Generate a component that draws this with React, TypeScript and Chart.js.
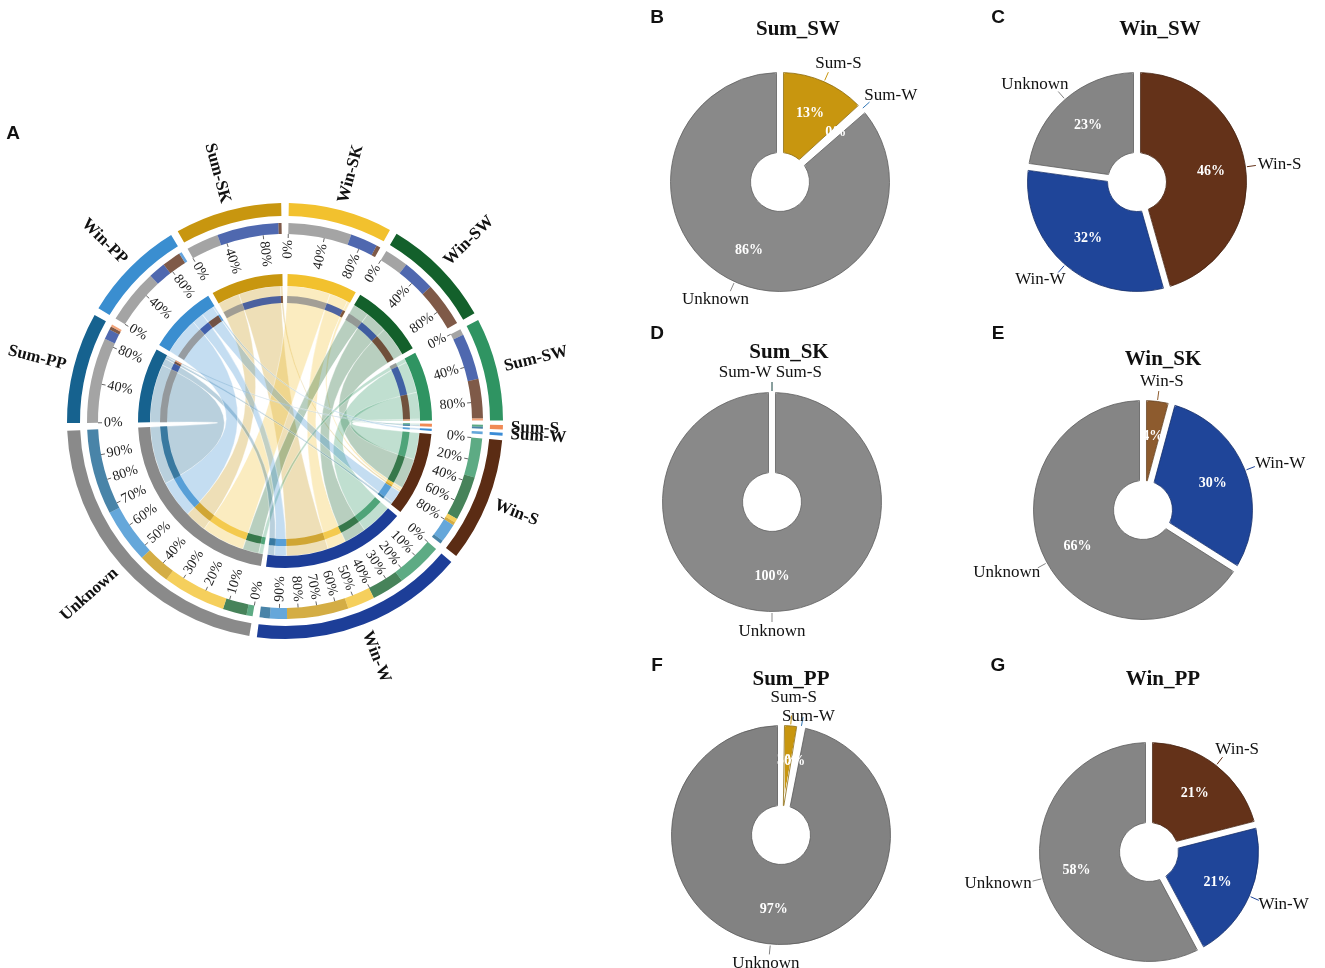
import React, { useEffect, useRef } from 'react';
import { Chart, registerables } from 'chart.js';

Chart.register(...registerables);

const SERIF = "'Liberation Serif', 'Times New Roman', serif";
const SANS = "'Liberation Sans', Arial, sans-serif";

// ---------- Panel A : chord diagram ----------
const SECTORS = ['Win-SK', 'Win-SW', 'Sum-SW', 'Sum-S', 'Sum-W', 'Win-S', 'Win-W', 'Unknown', 'Sum-PP', 'Win-PP', 'Sum-SK'];
const SECTOR_COLORS = ['#F2C12E', '#13602B', '#2F9462', '#F08A55', '#3A8CD6', '#5B2C14', '#1D3E98', '#8A8A8A', '#16628F', '#3A8ED0', '#C8960F'];
const SECTOR_GAPS = [2, 2, 2, 1.2, 0.8, 1.2, 2, 2, 2, 2, 2];
const TICK_STEPS = [40, 40, 40, 0, 0, 20, 10, 10, 40, 40, 40];

const SITES = ['Sum-SK', 'Win-SK', 'Win-SW', 'Sum-SW', 'Sum-PP', 'Win-PP'];
const SOURCES = ['Unknown', 'Win-W', 'Win-S', 'Sum-S', 'Sum-W'];
const LINKS_SUM_SK = [9.5, 18.0, 0.9, 0, 0];
const LINKS_WIN_SK = [18.5, 8.0, 1.2, 0, 0];
const LINKS_WIN_SW = [7.0, 9.5, 13.0, 0, 0];
const LINKS_SUM_SW = [1.8, 13.5, 11.5, 0.6, 0];
const LINKS_SUM_PP = [25.0, 3.0, 1.0, 0.6, 0];
const LINKS_WIN_PP = [16.0, 5.0, 5.5, 0, 0.8];
const LINK_ROWS = [LINKS_SUM_SK, LINKS_WIN_SK, LINKS_WIN_SW, LINKS_SUM_SW, LINKS_SUM_PP, LINKS_WIN_PP];

// ---------- Panels B-G : pies ----------
const PIE_B_LABELS = ['Sum-S', 'Sum-W', 'Unknown'];
const PIE_B_VALUES = [13.2, 0.4, 86.4];
const PIE_B_COLORS = ['#C8960F', '#2E75B6', '#898989'];

const PIE_C_LABELS = ['Win-S', 'Win-W', 'Unknown'];
const PIE_C_VALUES = [45.6, 31.6, 22.8];
const PIE_C_COLORS = ['#643219', '#1F4599', '#858585'];

const PIE_D_LABELS = ['Sum-W', 'Sum-S', 'Unknown'];
const PIE_D_VALUES = [0, 0, 100];
const PIE_D_COLORS = ['#2E75B6', '#C8960F', '#898989'];

const PIE_E_LABELS = ['Win-S', 'Win-W', 'Unknown'];
const PIE_E_VALUES = [4.2, 29.8, 66.0];
const PIE_E_COLORS = ['#8D5B2E', '#1F4599', '#858585'];

const PIE_F_LABELS = ['Sum-S', 'Sum-W', 'Unknown'];
const PIE_F_VALUES = [2.8, 0.3, 96.9];
const PIE_F_COLORS = ['#C8960F', '#2E75B6', '#828282'];

const PIE_G_LABELS = ['Win-S', 'Win-W', 'Unknown'];
const PIE_G_VALUES = [21.0, 21.2, 57.8];
const PIE_G_COLORS = ['#643219', '#1F4599', '#858585'];

const PIE_TITLES = ['Sum_SW', 'Win_SW', 'Sum_SK', 'Win_SK', 'Sum_PP', 'Win_PP'];
const PANEL_LETTERS = ['B', 'C', 'D', 'E', 'F', 'G'];

// layout (positions only)
const PIE_LAYOUT = [
  { cx: 780, cy: 182, tx: 798, ty: 28, lx: 657, ly: 17, spread: 'x' },
  { cx: 1137, cy: 182, tx: 1160, ty: 28, lx: 998, ly: 17, spread: 'x' },
  { cx: 772, cy: 502, tx: 789, ty: 351, lx: 657, ly: 333, spread: 'x' },
  { cx: 1143, cy: 510, tx: 1163, ty: 358, lx: 998, ly: 333, spread: 'x' },
  { cx: 781, cy: 835, tx: 791, ty: 678, lx: 657, ly: 665, spread: 'y' },
  { cx: 1149, cy: 852, tx: 1163, ty: 678, lx: 998, ly: 665, spread: 'x' },
];

const PIES = [
  { labels: PIE_B_LABELS, values: PIE_B_VALUES, colors: PIE_B_COLORS },
  { labels: PIE_C_LABELS, values: PIE_C_VALUES, colors: PIE_C_COLORS },
  { labels: PIE_D_LABELS, values: PIE_D_VALUES, colors: PIE_D_COLORS },
  { labels: PIE_E_LABELS, values: PIE_E_VALUES, colors: PIE_E_COLORS },
  { labels: PIE_F_LABELS, values: PIE_F_VALUES, colors: PIE_F_COLORS },
  { labels: PIE_G_LABELS, values: PIE_G_VALUES, colors: PIE_G_COLORS },
];

function hexToRgb(h: string): number[] {
  const n = parseInt(h.slice(1), 16);
  return [(n >> 16) & 255, (n >> 8) & 255, n & 255];
}
function rgba(h: string, a: number): string {
  const [r, g, b] = hexToRgb(h);
  return `rgba(${r},${g},${b},${a})`;
}
function darken(h: string, f: number): string {
  const [r, g, b] = hexToRgb(h);
  return `rgb(${Math.round(r * f)},${Math.round(g * f)},${Math.round(b * f)})`;
}

type Link = { a: number; b: number; v: number; color: string; idxA: number; idxB: number };

function buildChord() {
  const N = SECTORS.length;
  const links: Link[] = [];
  SITES.forEach((s, si) => {
    SOURCES.forEach((t, ti) => {
      const v = LINK_ROWS[si][ti];
      if (v > 0) {
        const a = SECTORS.indexOf(s);
        links.push({ a, b: SECTORS.indexOf(t), v, color: SECTOR_COLORS[a], idxA: -1, idxB: -1 });
      }
    });
  });
  const ringData: number[] = [];
  const ringColors: string[] = [];
  const stackData: number[] = [];
  const stackColors: string[] = [];
  for (let i = 0; i < N; i++) {
    const ends: { l: Link; partner: number; side: string }[] = [];
    links.forEach((l) => {
      if (l.a === i) ends.push({ l, partner: l.b, side: 'A' });
      if (l.b === i) ends.push({ l, partner: l.a, side: 'B' });
    });
    ends.sort((p, q) => ((i - p.partner + N) % N) - ((i - q.partner + N) % N));
    const total = ends.reduce((s, e) => s + e.l.v, 0);
    ringData.push(SECTOR_GAPS[i], total);
    ringColors.push('rgba(0,0,0,0)', SECTOR_COLORS[i]);
    stackData.push(SECTOR_GAPS[i]);
    stackColors.push('rgba(0,0,0,0)');
    ends.forEach((e) => {
      const idx = stackData.length;
      stackData.push(e.l.v);
      stackColors.push(rgba(SECTOR_COLORS[e.partner], 0.78));
      if (e.side === 'A') e.l.idxA = idx;
      else e.l.idxB = idx;
    });
  }
  return { links, ringData, ringColors, stackData, stackColors };
}

function radialText(ctx: CanvasRenderingContext2D, text: string, cx: number, cy: number, ang: number, r: number, outward: boolean) {
  const right = Math.cos(ang) > 1e-6;
  ctx.save();
  ctx.translate(cx + r * Math.cos(ang), cy + r * Math.sin(ang));
  if (right) {
    ctx.rotate(ang);
    ctx.textAlign = outward ? 'left' : 'right';
  } else {
    ctx.rotate(ang + Math.PI);
    ctx.textAlign = outward ? 'right' : 'left';
  }
  ctx.textBaseline = 'middle';
  ctx.fillText(text, 0, 0);
  ctx.restore();
}

function ChordChart() {
  const ref = useRef<HTMLCanvasElement>(null);
  useEffect(() => {
    if (!ref.current) return;
    const { links, ringData, ringColors, stackData, stackColors } = buildChord();
    const clear = ringData.map(() => 'rgba(0,0,0,0)');
    const total = ringData.reduce((a, b) => a + b, 0);
    const rotation = -(SECTOR_GAPS[0] / 2) * 360 / total;

    const chordPlugin = {
      id: 'chords',
      beforeDatasetsDraw(chart: any) {
        const ctx = chart.ctx as CanvasRenderingContext2D;
        const inner = chart.getDatasetMeta(6).data;
        const secArc = chart.getDatasetMeta(4).data[1].getProps(['innerRadius'], true);
        const r = secArc.innerRadius;
        ctx.save();
        links.forEach((l) => {
          const A = inner[l.idxA].getProps(['x', 'y', 'startAngle', 'endAngle'], true);
          const B = inner[l.idxB].getProps(['x', 'y', 'startAngle', 'endAngle'], true);
          const cx = A.x, cy = A.y;
          ctx.beginPath();
          ctx.moveTo(cx + r * Math.cos(A.startAngle), cy + r * Math.sin(A.startAngle));
          ctx.arc(cx, cy, r, A.startAngle, A.endAngle);
          ctx.quadraticCurveTo(cx, cy, cx + r * Math.cos(B.startAngle), cy + r * Math.sin(B.startAngle));
          ctx.arc(cx, cy, r, B.startAngle, B.endAngle);
          ctx.quadraticCurveTo(cx, cy, cx + r * Math.cos(A.startAngle), cy + r * Math.sin(A.startAngle));
          ctx.closePath();
          ctx.fillStyle = rgba(l.color, 0.3);
          ctx.fill();
          ctx.strokeStyle = 'rgba(255,255,255,0.55)';
          ctx.lineWidth = 0.7;
          ctx.stroke();
        });
        ctx.restore();
      },
      afterDatasetsDraw(chart: any) {
        const ctx = chart.ctx as CanvasRenderingContext2D;
        const sec = chart.getDatasetMeta(0).data;
        const st = chart.getDatasetMeta(2).data[0].getProps(['innerRadius'], true);
        const rTick = st.innerRadius;
        ctx.save();
        for (let i = 0; i < SECTORS.length; i++) {
          const a = sec[2 * i + 1].getProps(['x', 'y', 'startAngle', 'endAngle', 'outerRadius'], true);
          const step = TICK_STEPS[i];
          if (step > 0) {
            for (let p = 0; p < 100; p += step) {
              const ang = a.startAngle + (a.endAngle - a.startAngle) * p / 100;
              ctx.strokeStyle = '#666';
              ctx.lineWidth = 1;
              ctx.beginPath();
              ctx.moveTo(a.x + rTick * Math.cos(ang), a.y + rTick * Math.sin(ang));
              ctx.lineTo(a.x + (rTick - 4) * Math.cos(ang), a.y + (rTick - 4) * Math.sin(ang));
              ctx.stroke();
              ctx.fillStyle = '#222';
              ctx.font = `14px ${SERIF}`;
              radialText(ctx, `${p}%`, a.x, a.y, ang, rTick - 6, false);
            }
          }
          const mid = (a.startAngle + a.endAngle) / 2;
          ctx.fillStyle = '#111';
          ctx.font = `bold 17px ${SERIF}`;
          radialText(ctx, SECTORS[i], a.x, a.y, mid, a.outerRadius + 8, true);
        }
        ctx.restore();
      },
    };

    const chart = new Chart(ref.current, {
      type: 'doughnut',
      data: {
        datasets: [
          { data: ringData, backgroundColor: ringColors, borderWidth: 0, weight: 13 },
          { data: ringData, backgroundColor: clear, borderWidth: 0, weight: 7 },
          { data: stackData, backgroundColor: stackColors, borderWidth: 0, weight: 11 },
          { data: ringData, backgroundColor: clear, borderWidth: 0, weight: 40 },
          { data: ringData, backgroundColor: ringColors, borderWidth: 0, weight: 12 },
          { data: ringData, backgroundColor: clear, borderWidth: 0, weight: 10 },
          { data: stackData, backgroundColor: stackColors, borderWidth: 0, weight: 7 },
        ] as any,
      },
      options: {
        animation: false,
        responsive: false,
        events: [],
        rotation,
        cutout: 118,
        layout: { padding: { left: 67, right: 67, top: 82, bottom: 82 } },
        plugins: { legend: { display: false }, tooltip: { enabled: false } },
      } as any,
      plugins: [chordPlugin],
    });
    return () => chart.destroy();
  }, []);
  return <canvas ref={ref} width={570} height={600} style={{ position: 'absolute', left: 0, top: 121 }} />;
}

const pieLabelPlugin = {
  id: 'pieLabels',
  afterDatasetsDraw(chart: any, _args: any, opts: any) {
    const ctx = chart.ctx as CanvasRenderingContext2D;
    const meta = chart.getDatasetMeta(0);
    const ds = chart.data.datasets[0];
    const values = ds.data as number[];
    const total = values.reduce((a: number, b: number) => a + b, 0);
    const colors = ds.backgroundColor as string[];
    const labels = chart.data.labels as string[];
    ctx.save();
    // thin dark outline inside the white gap border
    meta.data.forEach((el: any, i: number) => {
      if (values[i] <= 0) return;
      const p = el.getProps(['x', 'y', 'startAngle', 'endAngle', 'innerRadius', 'outerRadius'], true);
      const inset = 3.5;
      const ro = p.outerRadius - inset, ri = p.innerRadius + inset;
      const span = p.endAngle - p.startAngle;
      const dOut = Math.min(inset / ro, span / 2.2), dIn = Math.min(inset / ri, span / 2.2);
      if (span * ro < 3 * inset) return;
      ctx.beginPath();
      ctx.arc(p.x, p.y, ro, p.startAngle + dOut, p.endAngle - dOut);
      ctx.arc(p.x, p.y, ri, p.endAngle - dIn, p.startAngle + dIn, true);
      ctx.closePath();
      ctx.strokeStyle = darken(colors[i], 0.7);
      ctx.lineWidth = 0.8;
      ctx.lineJoin = 'round';
      ctx.stroke();
    });
    // percentages inside
    meta.data.forEach((el: any, i: number) => {
      if (values[i] <= 0) return;
      const p = el.getProps(['x', 'y', 'startAngle', 'endAngle', 'innerRadius', 'outerRadius'], true);
      const m = (p.startAngle + p.endAngle) / 2;
      const r = p.innerRadius + (p.outerRadius - p.innerRadius) * 0.56;
      ctx.fillStyle = '#fff';
      ctx.font = `bold 14px ${SERIF}`;
      ctx.textAlign = 'center';
      ctx.textBaseline = 'middle';
      ctx.fillText(`${Math.round((values[i] / total) * 100)}%`, p.x + r * Math.cos(m), p.y + r * Math.sin(m));
    });
    // outer labels with leader lines
    ctx.font = `17px ${SERIF}`;
    const boxes: any[] = [];
    meta.data.forEach((el: any, i: number) => {
      const p = el.getProps(['x', 'y', 'startAngle', 'endAngle', 'outerRadius'], true);
      const m = (p.startAngle + p.endAngle) / 2;
      const ux = Math.cos(m), uy = Math.sin(m);
      const R = p.outerRadius - 3;
      const x1 = p.x + (R + 1) * ux, y1 = p.y + (R + 1) * uy;
      const x2 = p.x + (R + 10) * ux, y2 = p.y + (R + 10) * uy;
      const w = ctx.measureText(labels[i]).width;
      const h = 17;
      boxes.push({ i, x1, y1, x2, y2, w, h, cx: x2 + ux * (w / 2 + 2), cy: y2 + uy * (h / 2 + 1) });
    });
    for (let j = 0; j < boxes.length; j++) {
      for (let k = 0; k < j; k++) {
        const A = boxes[k], B = boxes[j];
        const ox = (A.w + B.w) / 2 + 4 - Math.abs(A.cx - B.cx);
        const oy = (A.h + B.h) / 2 + 2 - Math.abs(A.cy - B.cy);
        if (ox > 0 && oy > 0) {
          if (opts.spread === 'y') {
            const s = B.cy >= A.cy ? 1 : -1;
            B.cy += (s * oy) / 2;
            A.cy -= (s * oy) / 2;
          } else {
            const s = B.cx >= A.cx ? 1 : -1;
            B.cx += (s * ox) / 2;
            A.cx -= (s * ox) / 2;
          }
        }
      }
    }
    for (let j = boxes.length - 1; j >= 0; j--) {
      const b = boxes[j];
      ctx.strokeStyle = colors[b.i];
      ctx.lineWidth = 1;
      ctx.beginPath();
      ctx.moveTo(b.x1, b.y1);
      ctx.lineTo(b.x2, b.y2);
      ctx.stroke();
    }
    boxes.forEach((b) => {
      ctx.fillStyle = '#111';
      ctx.textAlign = 'center';
      ctx.textBaseline = 'middle';
      ctx.fillText(labels[b.i], b.cx, b.cy);
    });
    ctx.restore();
  },
};

function PieChart({ idx }: { idx: number }) {
  const ref = useRef<HTMLCanvasElement>(null);
  const pie = PIES[idx];
  const lay = PIE_LAYOUT[idx];
  useEffect(() => {
    if (!ref.current) return;
    const chart = new Chart(ref.current, {
      type: 'doughnut',
      data: {
        labels: pie.labels,
        datasets: [
          {
            data: pie.values,
            backgroundColor: pie.colors,
            borderColor: '#ffffff',
            borderWidth: 7,
            borderRadius: 6,
            borderJoinStyle: 'round',
          } as any,
        ],
      },
      options: {
        animation: false,
        responsive: false,
        events: [],
        radius: 113,
        cutout: '23%',
        layout: { padding: 0 },
        plugins: { legend: { display: false }, tooltip: { enabled: false }, pieLabels: { spread: lay.spread } },
      } as any,
      plugins: [pieLabelPlugin],
    });
    return () => chart.destroy();
  }, []);
  return (
    <canvas
      ref={ref}
      width={400}
      height={330}
      style={{ position: 'absolute', left: lay.cx - 200, top: lay.cy - 165 }}
    />
  );
}

const textStyle = (x: number, y: number, font: string): React.CSSProperties => ({
  position: 'absolute',
  left: x,
  top: y,
  transform: 'translate(-50%, -50%)',
  whiteSpace: 'nowrap',
  lineHeight: 1,
  font,
  color: '#111',
});

export default function App() {
  return (
    <div style={{ position: 'absolute', left: 0, top: 0, width: 1325, height: 968, overflow: 'hidden', background: '#fff' }}>
      <ChordChart />
      {PIES.map((_, i) => (
        <PieChart key={i} idx={i} />
      ))}
      <div style={textStyle(13, 133, `bold 19px ${SANS}`)}>A</div>
      {PIE_LAYOUT.map((l, i) => (
        <React.Fragment key={i}>
          <div style={textStyle(l.lx, l.ly, `bold 19px ${SANS}`)}>{PANEL_LETTERS[i]}</div>
          <div style={textStyle(l.tx, l.ty, `bold 21px ${SERIF}`)}>{PIE_TITLES[i]}</div>
        </React.Fragment>
      ))}
    </div>
  );
}
